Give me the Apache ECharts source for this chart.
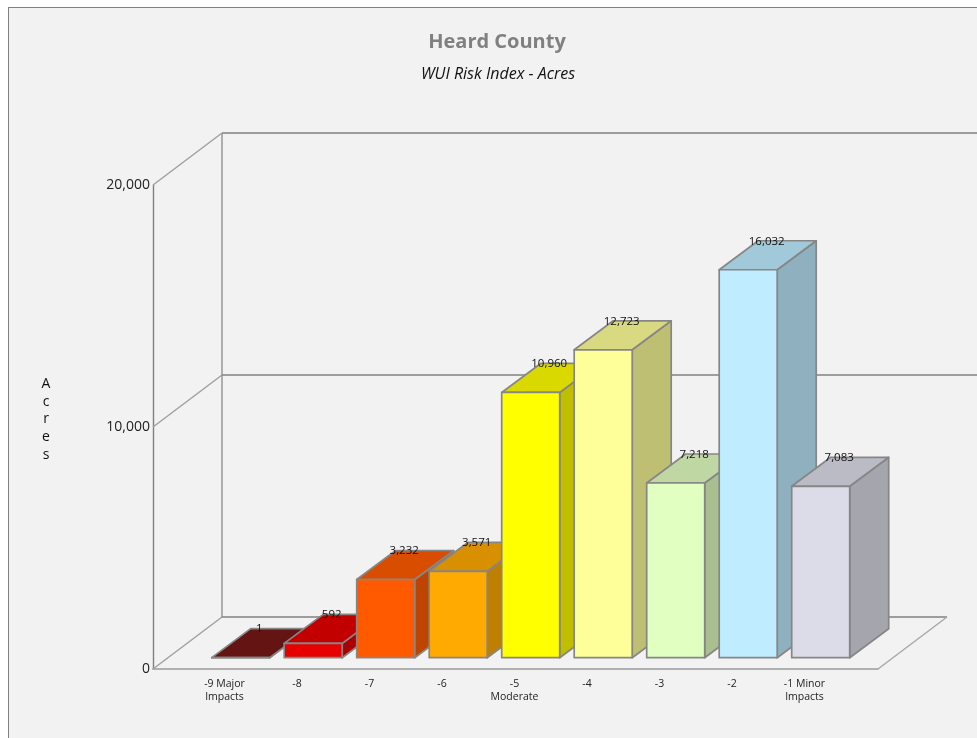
<!DOCTYPE html>
<html><head><meta charset="utf-8">
<style>
html,body{margin:0;padding:0;background:#fff;width:977px;height:738px;overflow:hidden}
#panel{position:absolute;left:8px;top:7px;width:1000px;height:800px;background:#f2f2f2;border:1px solid #808080}
#chart{position:absolute;left:0;top:0;width:977px;height:738px}
</style>
<script src="https://cdn.jsdelivr.net/npm/echarts@6/dist/echarts.min.js"></script>
</head><body><div id="panel"></div><div id="chart"></div>
<script>
const categories = ['', '-9 Major\nImpacts', '-8', '-7', '-6', '-5\nModerate', '-4', '-3', '-2', '-1 Minor\nImpacts', ' '];
const acres = [1, 592, 3232, 3571, 10960, 12723, 7218, 16032, 7083];
const yTicks = [0, 10000, 20000];
const frontColors = ['#771818','#e60000','#ff5a00','#ffaa00','#ffff00','#ffff99','#e1ffc0','#bfedff','#dcdce8'];
const topColors   = ['#651414','#c30000','#d94d00','#d99000','#d9d900','#d9d982','#bfd8a3','#a2c9d9','#bbbbc5'];
const sideColors  = ['#591010','#ac0000','#bf4400','#bf7f00','#bfbf00','#bfbf73','#a9bf90','#8fb1bf','#a5a5ae'];

const FONT = '"Open Sans", "Noto Sans", sans-serif';
const EDGE = '#868686';
const WALL_DX = 69, WALL_DY = 52;
const BAR_DX = 39, BAR_DY = 29, BAR_HALF = 29, OFF_X = 15.2, OFF_Y = 11.3;

function renderWalls(params, api) {
  const v = api.value(0);
  const p = api.coord([0, v]);
  const end = api.coord([categories.length - 1, v]);
  const children = [
    {type:'line', shape:{x1:p[0], y1:p[1], x2:p[0]+WALL_DX, y2:p[1]-WALL_DY}, style:{stroke:'#a0a0a0', lineWidth:1.5}}
  ];
  if (v === 0) {
    children.push({type:'line', shape:{x1:p[0]+WALL_DX, y1:p[1]-WALL_DY, x2:end[0]+WALL_DX, y2:p[1]-WALL_DY}, style:{stroke:'#808080', lineWidth:1.4}});
    children.push({type:'line', shape:{x1:end[0], y1:p[1], x2:end[0]+WALL_DX, y2:p[1]-WALL_DY}, style:{stroke:'#a8a8a8', lineWidth:1.5}});
    const topP = api.coord([0, yTicks[yTicks.length-1]]);
    children.push({type:'line', shape:{x1:p[0]+WALL_DX, y1:p[1]-WALL_DY, x2:p[0]+WALL_DX, y2:topP[1]-WALL_DY}, style:{stroke:'#808080', lineWidth:1.2}});
  } else {
    children.push({type:'line', shape:{x1:p[0]+WALL_DX, y1:p[1]-WALL_DY, x2:1000, y2:p[1]-WALL_DY}, style:{stroke:'#808080', lineWidth:1.4}});
  }
  return {type:'group', children};
}

function renderBar(params, api) {
  const i = api.value(0), v = api.value(1);
  const base = api.coord([i, 0]), top = api.coord([i, v]);
  const cx = base[0] + OFF_X, l = cx - BAR_HALF, r = cx + BAR_HALF;
  const yb = base[1] - OFF_Y, yt = top[1] - OFF_Y;
  const idx = params.dataIndex;
  const edge = {stroke:EDGE, lineWidth:1.7, lineJoin:'round'};
  return {type:'group', children:[
    {type:'polygon', shape:{points:[[r,yb],[r+BAR_DX,yb-BAR_DY],[r+BAR_DX,yt-BAR_DY],[r,yt]]}, style:{fill:sideColors[idx], ...edge}},
    {type:'polygon', shape:{points:[[l,yt],[l+BAR_DX,yt-BAR_DY],[r+BAR_DX,yt-BAR_DY],[r,yt]]}, style:{fill:topColors[idx], ...edge}},
    {type:'rect', shape:{x:l, y:yt, width:r-l, height:yb-yt}, style:{fill:frontColors[idx], ...edge}}
  ]};
}

function renderValueLabel(params, api) {
  const i = api.value(0), v = api.value(1);
  const p = api.coord([i, v]);
  return {type:'text', style:{
    x:p[0]+OFF_X+18.5, y:p[1]-OFF_Y-28.5,
    text:v.toLocaleString('en-US'), font:'11.5px '+FONT, fill:'#111', align:'center', verticalAlign:'middle'
  }};
}

const chart = echarts.init(document.getElementById('chart'), null, {renderer:'canvas'});
chart.setOption({
  animation:false,
  backgroundColor:'transparent',
  title:[
    {text:'Heard County', left:492, top:27, textAlign:'center', textStyle:{color:'#808080', fontSize:20, fontWeight:'bold', fontFamily:FONT}},
    {text:'WUI Risk Index - Acres', left:493, top:61, textAlign:'center', textStyle:{color:'#111', fontSize:16, fontStyle:'italic', fontWeight:'normal', fontFamily:FONT}},
    {text:'A\nc\nr\ne\ns', left:41, top:370, textAlign:'center', textStyle:{color:'#111', fontSize:14, fontWeight:'normal', lineHeight:17.75, fontFamily:FONT}}
  ],
  grid:{left:153, right:99, top:185, bottom:69, containLabel:false},
  xAxis:{type:'category', data:categories, boundaryGap:false,
    axisLine:{show:true, lineStyle:{color:'#b0b0b0', width:2}},
    axisTick:{show:false}, splitLine:{show:false},
    axisLabel:{interval:0, color:'#222', fontSize:10.5, fontFamily:FONT, lineHeight:12.5, margin:9, align:'center', padding:[0,2,0,0]}},
  yAxis:{type:'value', min:0, max:20000, interval:10000,
    axisLine:{show:true, lineStyle:{color:'#808080', width:1.4}},
    axisTick:{show:false}, splitLine:{show:false},
    axisLabel:{color:'#222', fontSize:14, fontFamily:FONT, margin:3, padding:[0,0,7,0],
      formatter:v=>v.toLocaleString('en-US')}},
  series:[
    {type:'custom', renderItem:renderWalls, data:yTicks.map(v=>[v]), encode:{y:0}, silent:true, z:1, clip:false},
    {type:'custom', renderItem:renderBar, data:acres.map((v,i)=>[i+1,v]), encode:{x:0,y:1}, z:2, clip:false},
    {type:'custom', renderItem:renderValueLabel, data:acres.map((v,i)=>[i+1,v]), encode:{x:0,y:1}, z:3, clip:false}
  ]
});
</script></body></html>
